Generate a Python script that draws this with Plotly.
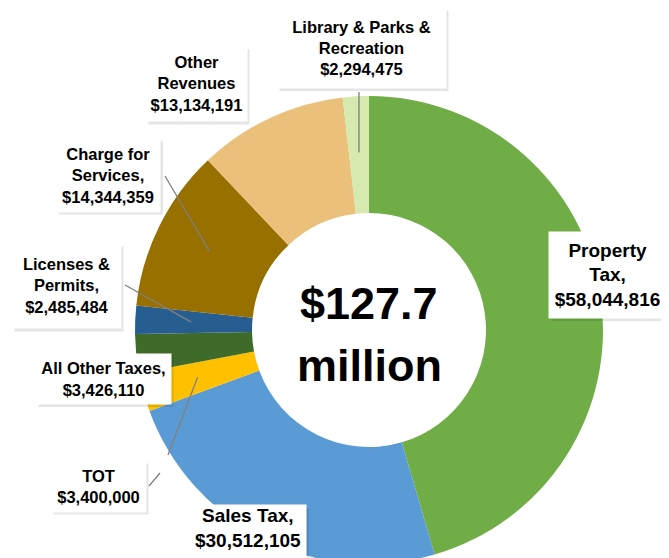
import math
import plotly.graph_objects as go

labels = ["Property Tax", "Sales Tax", "TOT", "All Other Taxes", "Licenses & Permits",
          "Charge for Services", "Other Revenues", "Library & Parks & Recreation"]
values = [58044816, 30512105, 3400000, 3426110, 2485484, 14344359, 13134191, 2294475]
colors = ["#70AD47", "#5B9BD5", "#FFC000", "#3F6B2A", "#265E91", "#987000", "#EBC07A", "#D6E9AF"]
label_text = [
    "Property<br>Tax,<br>$58,044,816",
    "Sales Tax,<br>$30,512,105",
    "TOT<br>$3,400,000",
    "All Other Taxes,<br>$3,426,110",
    "Licenses &<br>Permits,<br>$2,485,484",
    "Charge for<br>Services,<br>$14,344,359",
    "Other<br>Revenues<br>$13,134,191",
    "Library & Parks &<br>Recreation<br>$2,294,475",
]
center_lines = ["$127.7", "million"]

W, H = 669, 558
FONT = "Liberation Sans, Arial, sans-serif"

# donut geometry (px)
CX, CY, R = 361, 322, 234

# label boxes: centre x, centre y, width, height, font size, vertical align - layout only
label_box = [
    (599, 267, 117, 86, 19, "middle"),
    (240, 529, 116, 64, 19, "top"),
    (90, 478, 95, 51, 16.5, "middle"),
    (95, 371, 135, 50, 16.5, "middle"),
    (58, 278, 109, 85, 16.5, "middle"),
    (100, 167, 104, 73, 16.5, "middle"),
    (188, 76, 101, 75, 16.5, "middle"),
    (353, 40, 169, 80, 16.5, "middle"),
]
leader_start = [None, None, (160, 447), None, (117, 277), (157, 168), None, (351, 84)]


def px(x, y):
    return x / W, 1 - y / H


fig = go.Figure(go.Pie(
    labels=labels, values=values, hole=0.5, sort=False, direction="clockwise", rotation=0,
    marker=dict(colors=colors, line=dict(width=0)),
    textinfo="none", showlegend=False,
    domain=dict(x=[(CX - R) / W, (CX + R) / W], y=[1 - (CY + R) / H, 1 - (CY - R) / H]),
))

# slice mid angles -> leader anchors
total = sum(values)
cum = 0
mids = []
for v in values:
    mids.append((cum + v / 2) / total * 360)
    cum += v

shapes = []
for i, st in enumerate(leader_start):
    if st is None:
        continue
    a = math.radians(mids[i])
    ex, ey = CX + 0.76 * R * math.sin(a), CY - 0.76 * R * math.cos(a)
    x0, y0 = px(*st)
    x1, y1 = px(ex, ey)
    shapes.append(dict(type="line", xref="paper", yref="paper", x0=x0, y0=y0, x1=x1, y1=y1,
                       line=dict(color="#808080", width=1.3)))
# short tick beside the TOT box
x0, y0 = px(141, 478)
x1, y1 = px(152, 465)
shapes.append(dict(type="line", xref="paper", yref="paper", x0=x0, y0=y0, x1=x1, y1=y1,
                   line=dict(color="#808080", width=1.3)))

annotations = []
for t, (lx, ly, bw, bh, fs, va) in zip(label_text, label_box):
    # soft drop shadow behind each label box
    sx0, sy0 = px(lx - bw / 2 + 3, ly - bh / 2 + 3)
    sx1, sy1 = px(lx + bw / 2 + 3, ly + bh / 2 + 3)
    shapes.append(dict(type="rect", xref="paper", yref="paper", x0=sx0, y0=sy0, x1=sx1, y1=sy1,
                       fillcolor="rgba(0,0,0,0.10)", line=dict(width=0), layer="above"))
    x, y = px(lx, ly)
    annotations.append(dict(x=x, y=y, xref="paper", yref="paper",
                            text="<b>" + t.replace("<br>", "</b><br><b>") + "</b>",
                            showarrow=False, xanchor="center", yanchor="middle", align="center",
                            width=bw, height=bh, valign=va,
                            font=dict(family=FONT, size=fs, color="#000000"),
                            bgcolor="#FFFFFF", borderpad=0))

for t, cy in zip(center_lines, [295, 357]):
    x, y = px(CX, cy)
    annotations.append(dict(x=x, y=y, xref="paper", yref="paper", text="<b>" + t + "</b>",
                            showarrow=False, xanchor="center", yanchor="middle",
                            font=dict(family=FONT, size=45, color="#000000")))

fig.update_layout(
    width=W, height=H, margin=dict(l=0, r=0, t=0, b=0),
    paper_bgcolor="#FFFFFF", plot_bgcolor="#FFFFFF",
    shapes=shapes, annotations=annotations,
)
fig.write_html("out.html")
